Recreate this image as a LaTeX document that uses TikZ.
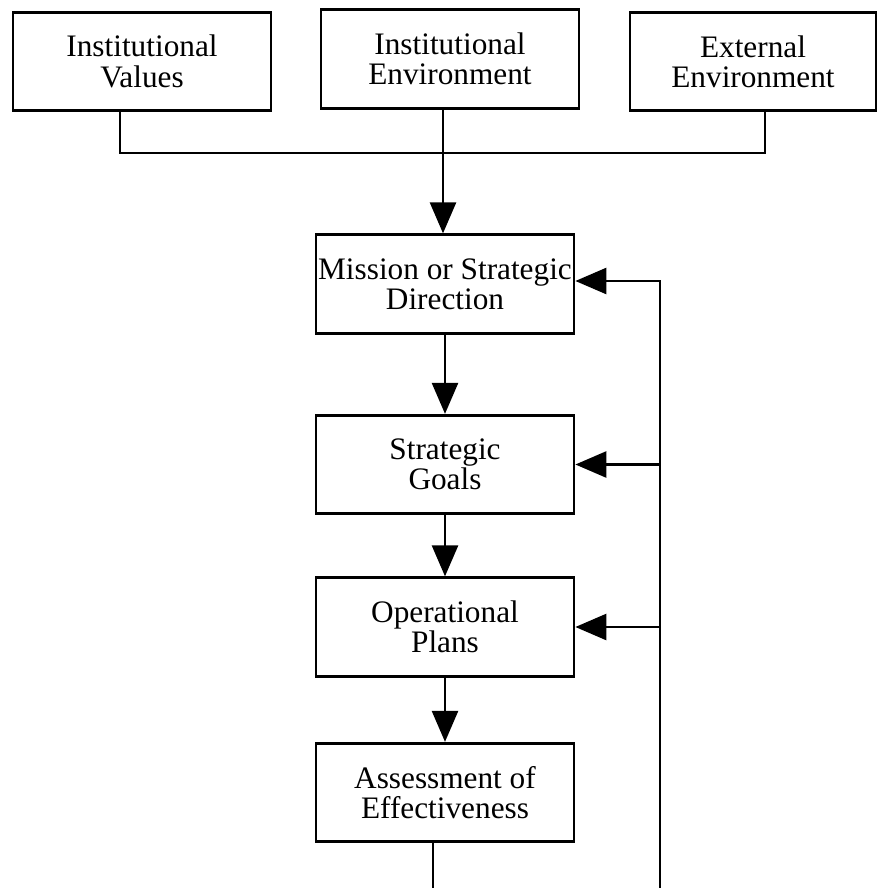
\documentclass[tikz,border=0pt]{standalone}
\usepackage{fontspec}
\setmainfont{Liberation Serif}
\usetikzlibrary{arrows.meta}

\begin{document}
\begin{tikzpicture}[x = .02cm, y = -.02cm, line width = 1.5pt,
    box/.style = {draw = black, line width = 1.6pt, align = center, inner xsep = 1pt,
      minimum width = 5.16cm, minimum height = 1.97cm,
      font = \fontsize{17.8}{17.2}\selectfont},
    arr/.style = {-{Triangle[length = .62cm, width = .52cm]}}]
    \useasboundingbox (0,0) rectangle (878,888);
    % sources
    \node[box] (vals) at (142,61.5) {Institutional\\Values};
    \node[box] (ienv) at (450,59) {Institutional\\Environment};
    \node[box, minimum width = 4.92cm] (eenv) at (753,61.5) {External\\Environment};
    % main chain
    \node[box] (miss) at (445,284) {Mission or Strategic\\Direction};
    \node[box] (goals) at (445,464.5) {Strategic\\Goals};
    \node[box] (ops) at (445,627) {Operational\\Plans};
    \node[box] (asmt) at (445,792.5) {Assessment of\\Effectiveness};
    \coordinate (jl) at (120,153);
    \coordinate (jr) at (765,153);
    \coordinate (jm) at (443,153);
    \coordinate (fb) at (660,888);
    \coordinate (ft) at (660,281);
    \coordinate (ab) at (433,888);

    \draw (vals.south -| jl) -- (jl) -- (jr) -- (eenv.south -| jr);
    \draw[arr] (ienv.south -| jm) -- (miss.north -| jm);
    \draw[arr] (miss) -- (goals);
    \draw[arr] (goals) -- (ops);
    \draw[arr] (ops) -- (asmt);
    \draw (asmt.south -| ab) -- (ab);
    % feedback
    \draw[arr] (fb) -- (ft) -- (miss.east |- ft);
    \draw[arr] (fb |- goals.east) -- (goals.east);
    \draw[arr] (fb |- ops.east) -- (ops.east);
\end{tikzpicture}
\end{document}
